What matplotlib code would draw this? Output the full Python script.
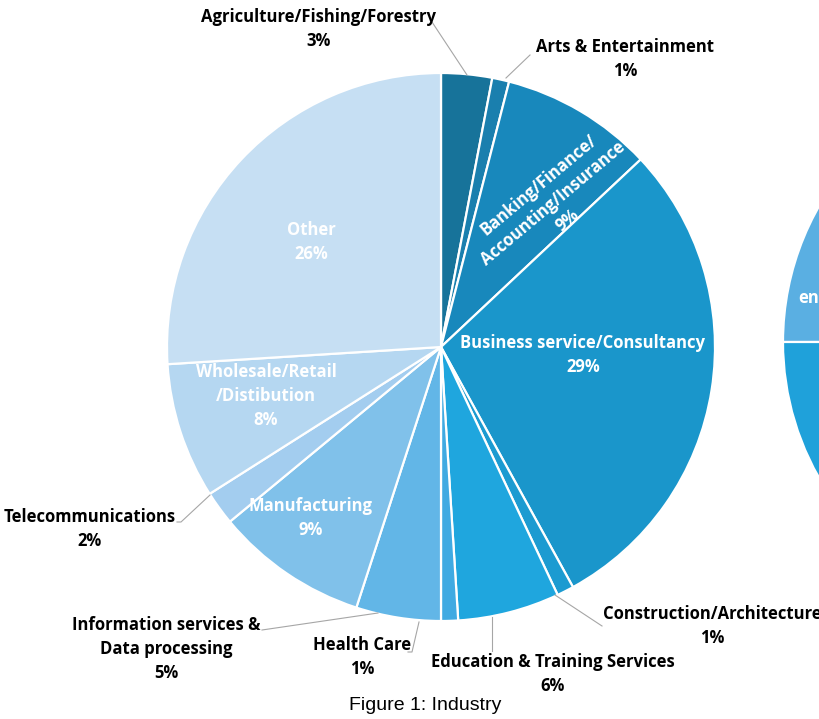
import matplotlib.pyplot as plt
from matplotlib.patches import Wedge

# industry breakdown, clockwise from 12 o'clock
industries = ['Agriculture/Fishing/Forestry', 'Arts & Entertainment',
              'Banking/Finance/\nAccounting/Insurance', 'Business service/Consultancy',
              'Construction/Architecture', 'Education & Training Services',
              'Health Care', 'Information services &\nData processing',
              'Manufacturing', 'Telecommunications',
              'Wholesale/Retail\n/Distibution', 'Other']
shares = [3, 1, 9, 29, 1, 6, 1, 5, 9, 2, 8, 26]
colors = ['#17739a', '#1a7fae', '#1888bc', '#1a96cb', '#1c9bd1', '#1fa6de',
          '#40aae2', '#62b6e7', '#80c1ea', '#a3cdef', '#b5d7f1', '#c6dff3']

# second chart, mostly outside the frame
side_shares = [25, 75]
side_colors = ['#5aafe2', '#1fa1da']

W, H = 820, 719
fig = plt.figure(figsize=(W / 100, H / 100), dpi=100)
ax = fig.add_axes([0, 0, 1, 1])

def py(y):
    return H - y

cx, cy, r = 441, py(347), 274
ax.pie(shares, colors=colors, startangle=90, counterclock=False,
       center=(cx, cy), radius=r, frame=True,
       wedgeprops=dict(edgecolor='white', linewidth=1.6))
ax.set_xlim(0, W)
ax.set_ylim(0, H)
ax.set_aspect('equal')
ax.axis('off')

# partial second pie on the right
sx, sy, sr = 1057, py(342), 274
a0 = 90
for s, c in zip(side_shares, side_colors):
    a1 = a0 + s / 100 * 360
    ax.add_patch(Wedge((sx, sy), sr, a0, a1, facecolor=c,
                       edgecolor='white', linewidth=1.6))
    a0 = a1
ax.text(819, py(298), 'en', color='white', fontsize=12, fontweight='bold',
        family='Open Sans', ha='right', va='center')

font = dict(family='Open Sans', fontweight='bold', fontsize=12)
lh = 24

def label(x, y, lines, color='black'):
    for i, t in enumerate(lines):
        ax.text(x, py(y + i * lh), t, color=color, ha='center', va='center',
                **font)

def pct(i):
    return '%d%%' % shares[i]

# white labels inside slices
label(311, 230, ['Other', pct(11)], 'white')
label(266, 372, ['Wholesale/Retail', '/Distibution', pct(10)], 'white')
label(311, 506, ['Manufacturing', pct(8)], 'white')
label(583, 343, ['Business service/Consultancy', pct(3)], 'white')
ax.text(553, py(203), 'Banking/Finance/\nAccounting/Insurance\n' + pct(2),
        color='white', ha='center', va='center', rotation=40,
        multialignment='center', linespacing=1.35, **font)

# outside labels
label(319, 17, ['Agriculture/Fishing/Forestry', pct(0)])
label(625, 47, ['Arts & Entertainment', pct(1)])
label(712, 614, ['Construction/Architecture', pct(4)])
label(553, 662, ['Education & Training Services', pct(5)])
label(362, 645, ['Health Care', pct(6)])
label(166, 625, ['Information services &', 'Data processing', pct(7)])
label(90, 517, ['Telecommunications', pct(9)])

# leader lines
leaders = [
    [(467, 75), (432, 22)],
    [(506, 78), (530, 55)],
    [(555, 595), (602, 626)],
    [(492, 617), (492, 651)],
    [(419, 622), (412, 652), (408, 652)],
    [(378, 613), (262, 630)],
    [(210, 495), (181, 522), (177, 522)],
]
for pts in leaders:
    ax.plot([p[0] for p in pts], [py(p[1]) for p in pts],
            color='#a6a6a6', linewidth=0.8)

ax.text(425, py(706), 'Figure 1: Industry', ha='center', va='center',
        family='Liberation Sans', fontsize=14)

fig.savefig('out.png', dpi=100)
